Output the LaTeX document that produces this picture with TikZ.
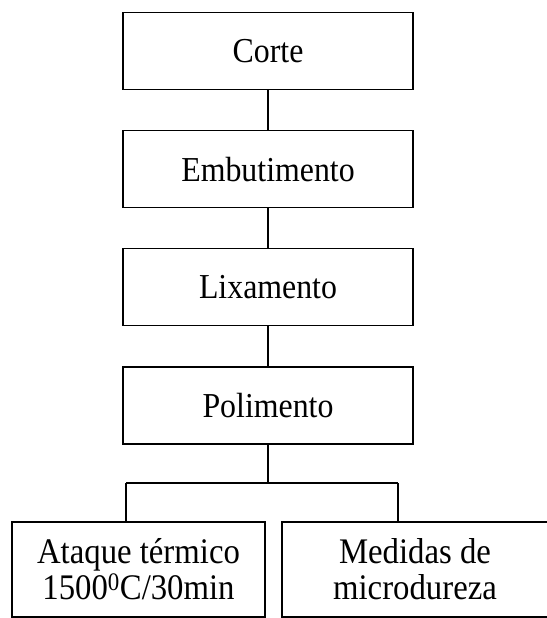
\documentclass[tikz,border=0pt]{standalone}
\usepackage{fontspec}
\setmainfont{Liberation Serif}[FakeStretch=0.91]
\usepackage{tikz}
\usetikzlibrary{positioning}

\begin{document}
\begin{tikzpicture}[x=1pt, y=-1pt, box/.style = {draw, rectangle, line width=1.1pt, minimum width=290pt, minimum height=77pt, inner sep=0pt, font=\fontsize{35}{36}\selectfont}, lowbox/.style = {box, align=center, minimum height=95pt, font=\fontsize{36}{36}\selectfont}, node distance={40pt}]
        \useasboundingbox (0,0) rectangle (546,618);
        \node[box] (corte) at (268,51) {Corte};
        \node[box] (embut) [below=of corte] {Embutimento};
        \node[box] (lixa) [below=of embut] {Lixamento};
        \node[box, line width=1.7pt] (poli) [below=of lixa] {Polimento};
        \node[lowbox, minimum width=253pt] (ataque) at (138.5,569.5) {Ataque térmico\\1500\textsuperscript{0}C/30min};
        \node[lowbox, minimum width=266pt] (medida) at (415,569.5) {Medidas de\\microdureza};
        \coordinate (split) at (268,483);
        \coordinate (dl) at (126,483);
        \coordinate (dr) at (398,483);
        \draw[line width=1.1pt] (corte) -- (embut);
        \draw[line width=1.1pt] (embut) -- (lixa);
        \draw[line width=1.1pt] (lixa) -- (poli);
        \draw[line width=1.1pt] (poli) -- (split);
        \draw[line width=1.1pt] (dl) -- (dr);
        \draw[line width=1.1pt] (dl) -- (dl |- ataque.north);
        \draw[line width=1.1pt] (dr) -- (dr |- medida.north);
    \end{tikzpicture}
\end{document}
